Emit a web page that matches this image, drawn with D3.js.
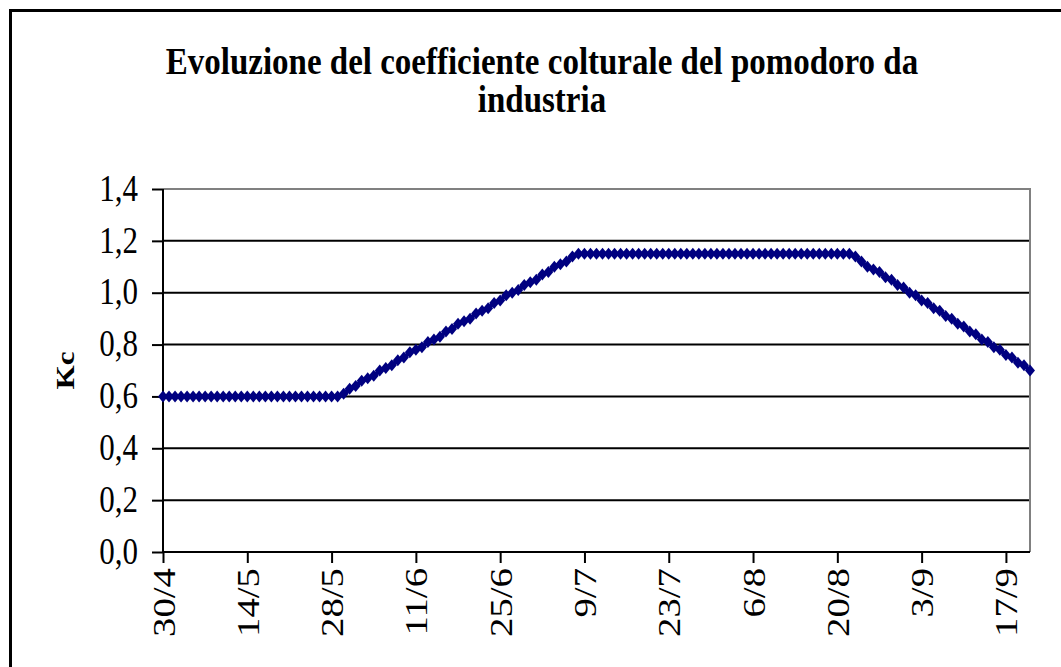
<!DOCTYPE html>
<html>
<head>
<meta charset="utf-8">
<script src="https://cdn.jsdelivr.net/npm/d3@7"></script>
<style>
  body { margin: 0; background: #fff; }
  svg text { font-family: "Liberation Serif", "Times New Roman", serif; fill: #000; }
</style>
</head>
<body>
<div id="chart"></div>
<script>
// Kc of processing tomato, one value per day from 30/4
var startDay = "30/4";
var kcValues = [
  0.60, 0.60, 0.60, 0.60, 0.60, 0.60, 0.60, 0.60, 0.60, 0.60,
  0.60, 0.60, 0.60, 0.60, 0.60, 0.60, 0.60, 0.60, 0.60, 0.60,
  0.60, 0.60, 0.60, 0.60, 0.60, 0.60, 0.60, 0.60, 0.60, 0.60,
  0.61, 0.63, 0.64, 0.66, 0.67, 0.68, 0.70, 0.71, 0.72, 0.74,
  0.75, 0.77, 0.78, 0.79, 0.81, 0.82, 0.83, 0.85, 0.86, 0.88,
  0.89, 0.90, 0.92, 0.93, 0.94, 0.96, 0.97, 0.99, 1.00, 1.01,
  1.03, 1.04, 1.05, 1.07, 1.08, 1.10, 1.11, 1.12, 1.14, 1.15,
  1.15, 1.15, 1.15, 1.15, 1.15, 1.15, 1.15, 1.15, 1.15, 1.15,
  1.15, 1.15, 1.15, 1.15, 1.15, 1.15, 1.15, 1.15, 1.15, 1.15,
  1.15, 1.15, 1.15, 1.15, 1.15, 1.15, 1.15, 1.15, 1.15, 1.15,
  1.15, 1.15, 1.15, 1.15, 1.15, 1.15, 1.15, 1.15, 1.15, 1.15,
  1.15, 1.15, 1.15, 1.15, 1.15,
  1.14, 1.12, 1.10, 1.09, 1.08, 1.06, 1.05, 1.03, 1.02, 1.00,
  0.99, 0.97, 0.96, 0.94, 0.93, 0.91, 0.90, 0.88, 0.87, 0.85,
  0.84, 0.82, 0.81, 0.79, 0.78, 0.76, 0.75, 0.73, 0.72, 0.70
];
var xTickLabels = ["30/4", "14/5", "28/5", "11/6", "25/6", "9/7", "23/7", "6/8", "20/8", "3/9", "17/9"];
var yTicks = [0, 0.2, 0.4, 0.6, 0.8, 1.0, 1.2, 1.4];
var titleLines = ["Evoluzione del coefficiente colturale del pomodoro da", "industria"];
var yLabel = "Kc";

var svgWidth = 1061, svgHeight = 667;
var margin = {top: 189, right: 31, bottom: 115, left: 163};
var width = svgWidth - margin.left - margin.right;
var height = svgHeight - margin.top - margin.bottom;
var stretch = 1.2; // text in the picture is a bit taller than wide

function parseDay(s) {
  var p = s.split("/");
  return new Date(2007, +p[1] - 1, +p[0]);
}
var start = parseDay(startDay);
var data = kcValues.map(function(v, i) {
  return {date: d3.timeDay.offset(start, i), kc: v};
});

var svg = d3.select("#chart").append("svg")
  .attr("width", svgWidth)
  .attr("height", svgHeight);

// outer frame
svg.append("rect")
  .attr("x", 10.5).attr("y", 10.5)
  .attr("width", svgWidth + 20).attr("height", svgHeight + 20)
  .attr("fill", "none").attr("stroke", "#000").attr("stroke-width", 3);

// title
svg.selectAll(".title")
  .data(titleLines)
  .enter().append("text")
  .attr("class", "title")
  .attr("transform", function(d, i) { return "translate(542," + (74 + i * 38) + ") scale(1,1.12)"; })
  .attr("text-anchor", "middle")
  .style("font-size", "33px")
  .style("font-weight", "bold")
  .text(function(d) { return d; });

var g = svg.append("g")
  .attr("transform", "translate(" + margin.left + "," + margin.top + ")");

var x = d3.scaleTime()
  .domain(d3.extent(data, function(d) { return d.date; }))
  .range([0, width]);
var y = d3.scaleLinear()
  .domain([0, 1.4])
  .range([height, 0]);

// grid lines
g.selectAll(".grid")
  .data(yTicks.filter(function(t) { return t > 0 && t < 1.4; }))
  .enter().append("line")
  .attr("x1", 0).attr("x2", width)
  .attr("y1", function(d) { return y(d); })
  .attr("y2", function(d) { return y(d); })
  .attr("stroke", "#000").attr("stroke-width", 2);

// plot area border (top and right)
g.append("path")
  .attr("d", "M0," + y(1.4) + "H" + width + "V" + height)
  .attr("fill", "none").attr("stroke", "#808080").attr("stroke-width", 2);

// y axis
var yAxis = g.append("g")
  .call(d3.axisLeft(y)
    .tickValues(yTicks)
    .tickSize(11)
    .tickPadding(14)
    .tickFormat(function(d) { return d3.format(".1f")(d).replace(".", ","); }));
yAxis.select(".domain").attr("stroke-width", 2).attr("d", "M0," + y(1.4) + "V" + height);
yAxis.selectAll(".tick line").attr("stroke-width", 2);
yAxis.selectAll(".tick text")
  .attr("transform", "scale(1," + stretch + ")")
  .attr("dy", "0.3em")
  .style("font-size", "31px")
  .style("font-family", "Liberation Serif");

// x axis
var xAxis = g.append("g")
  .attr("transform", "translate(0," + height + ")")
  .call(d3.axisBottom(x)
    .tickValues(xTickLabels.map(parseDay))
    .tickSize(11)
    .tickFormat(function(d, i) { return xTickLabels[i]; }));
xAxis.select(".domain").attr("stroke-width", 2).attr("d", "M0,0H" + width);
xAxis.selectAll(".tick line").attr("stroke-width", 2);
xAxis.selectAll(".tick text")
  .attr("y", null).attr("dy", null)
  .attr("text-anchor", "end")
  .attr("transform", "translate(11,16) rotate(-90) scale(1.25,1)")
  .style("font-size", "31px")
  .style("font-family", "Liberation Serif");

// y label
svg.append("text")
  .attr("transform", "translate(74," + (margin.top + height / 2) + ") rotate(-90) scale(" + stretch + ",1)")
  .attr("text-anchor", "middle")
  .style("font-size", "26px")
  .style("font-weight", "bold")
  .text(yLabel);

// series line
var line = d3.line()
  .x(function(d) { return x(d.date); })
  .y(function(d) { return y(d.kc); });

g.append("path")
  .datum(data)
  .attr("d", line)
  .attr("fill", "none")
  .attr("stroke", "#000080")
  .attr("stroke-width", 4);

// diamond markers
var diamond = "M0,-6L5,0L0,6L-5,0Z";
g.selectAll(".marker")
  .data(data)
  .enter().append("path")
  .attr("class", "marker")
  .attr("d", diamond)
  .attr("transform", function(d) { return "translate(" + x(d.date) + "," + y(d.kc) + ")"; })
  .attr("fill", "#000080");
</script>
</body>
</html>
